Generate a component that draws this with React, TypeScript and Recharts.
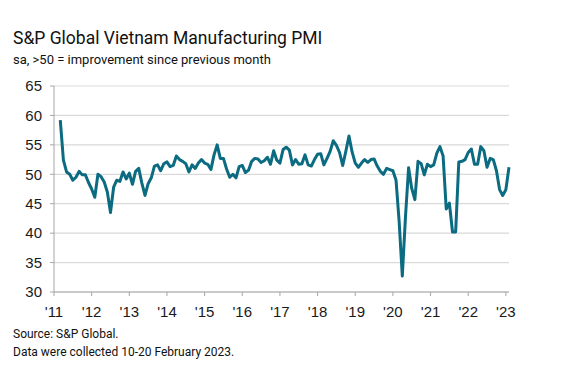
import React from 'react';
import { LineChart, Line, XAxis, YAxis, CartesianGrid } from 'recharts';

// monthly PMI readings, series starts March 2011
const START_MONTH = 2;
const pmi2011 = [59.2, 52.4, 50.4, 50.0, 49.0, 49.5, 50.5, 49.9, 49.9, 48.6];
const pmi2012 = [47.5, 46.1, 50.0, 49.6, 48.7, 47.0, 43.5, 47.8, 49.0, 48.8, 50.4, 49.2];
const pmi2013 = [50.2, 48.3, 50.5, 51.0, 48.5, 46.4, 48.4, 49.4, 51.4, 51.6, 50.6, 51.8];
const pmi2014 = [52.1, 51.3, 51.5, 53.1, 52.5, 52.2, 51.8, 50.4, 51.6, 51.0, 51.9, 52.5];
const pmi2015 = [51.9, 51.7, 50.8, 53.3, 55.0, 52.7, 52.7, 50.9, 49.5, 50.0, 49.4, 51.3];
const pmi2016 = [51.5, 50.3, 50.7, 52.2, 52.7, 52.6, 52.0, 52.3, 52.9, 51.7, 54.0, 52.4];
const pmi2017 = [51.9, 54.2, 54.6, 54.1, 51.6, 52.5, 51.7, 51.8, 53.3, 51.6, 51.4, 52.5];
const pmi2018 = [53.4, 53.5, 51.6, 52.7, 53.9, 55.7, 54.9, 53.7, 51.5, 53.9, 56.5, 53.8];
const pmi2019 = [51.9, 51.2, 51.9, 52.5, 52.0, 52.5, 52.6, 51.4, 50.5, 50.0, 51.0, 50.8];
const pmi2020 = [50.6, 49.0, 41.9, 32.7, 42.7, 51.1, 47.6, 45.7, 52.2, 51.8, 49.9, 51.7];
const pmi2021 = [51.3, 51.6, 53.6, 54.7, 53.1, 44.1, 45.1, 40.2, 40.2, 52.1, 52.2, 52.5];
const pmi2022 = [53.7, 54.3, 51.7, 51.7, 54.7, 54.0, 51.2, 52.7, 52.5, 50.6, 47.4, 46.4];
const pmi2023 = [47.4, 51.2];

const yearLabels = ["'11", "'12", "'13", "'14", "'15", "'16", "'17", "'18", "'19", "'20", "'21", "'22", "'23"];
const yTicks = [30, 35, 40, 45, 50, 55, 60, 65];

const allValues = [
  ...pmi2011, ...pmi2012, ...pmi2013, ...pmi2014, ...pmi2015, ...pmi2016, ...pmi2017,
  ...pmi2018, ...pmi2019, ...pmi2020, ...pmi2021, ...pmi2022, ...pmi2023,
];
const data = allValues.map((v, i) => ({ m: START_MONTH + i, pmi: v }));
const xTicks = yearLabels.map((_, i) => i * 12);

const tickFont = { fontSize: 15, fill: '#1a1a1a', fontFamily: '"Liberation Sans", Arial, sans-serif' };

export default function App() {
  return (
    <div style={{ position: 'absolute', left: 0, top: 0, width: 562, height: 376, background: '#fff', fontFamily: 'Roboto, sans-serif', color: '#111' }}>
      <div style={{ position: 'absolute', left: 13, top: 28, fontSize: 17.5, whiteSpace: 'nowrap' }}>
        S&amp;P Global Vietnam Manufacturing PMI
      </div>
      <div style={{ position: 'absolute', left: 13, top: 52, fontSize: 13, whiteSpace: 'nowrap' }}>
        sa, &gt;50 = improvement since previous month
      </div>
      <LineChart
        width={562}
        height={376}
        data={data}
        margin={{ top: 86, right: 53, left: 14, bottom: 54 }}
        style={{ position: 'absolute', left: 0, top: 0 }}
      >
        <CartesianGrid vertical={false} stroke="#d9d9d9" strokeWidth={1.2} />
        <XAxis
          dataKey="m"
          type="number"
          domain={[0, 145]}
          ticks={xTicks}
          tickFormatter={(v: number) => yearLabels[v / 12]}
          tick={tickFont}
          stroke="#a6a6a6"
          tickSize={4}
          tickMargin={10}
          height={30}
          interval={0}
        />
        <YAxis
          domain={[30, 65]}
          ticks={yTicks}
          tick={tickFont}
          stroke="#a6a6a6"
          tickSize={4}
          tickMargin={8}
          width={40}
          interval={0}
        />
        <Line
          dataKey="pmi"
          stroke="#0b6b80"
          strokeWidth={3}
          dot={false}
          isAnimationActive={false}
          strokeLinejoin="round"
        />
      </LineChart>
      <div style={{ position: 'absolute', left: 13, top: 327, fontSize: 12, whiteSpace: 'nowrap' }}>
        Source: S&amp;P Global.
      </div>
      <div style={{ position: 'absolute', left: 13, top: 345, fontSize: 12, whiteSpace: 'nowrap' }}>
        Data were collected 10-20 February 2023.
      </div>
    </div>
  );
}
